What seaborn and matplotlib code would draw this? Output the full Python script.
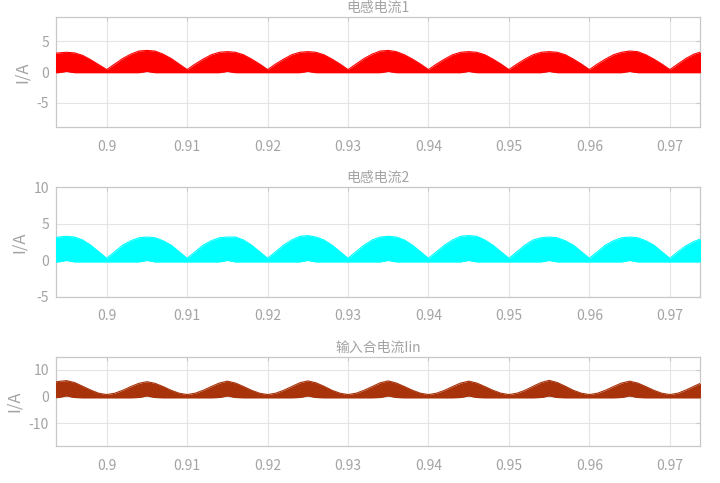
import numpy as np
import pandas as pd
import matplotlib
matplotlib.use("Agg")
import matplotlib.pyplot as plt
import seaborn as sns

# ---- data ----
time_s = np.round(np.arange(0.893, 0.9745, 0.001), 3)  # sample grid, 1 ms

i1_top = [2.9, 3.1, 3.2, 3.1, 2.7, 2.0, 1.2, 0.4,
          1.3, 2.2, 2.9, 3.4, 3.5, 3.4, 2.9, 2.2, 1.3, 0.4,
          1.3, 2.1, 2.8, 3.2, 3.3, 3.2, 2.8, 2.1, 1.3, 0.4,
          1.3, 2.1, 2.8, 3.2, 3.3, 3.2, 2.8, 2.1, 1.3, 0.4,
          1.3, 2.2, 2.9, 3.4, 3.5, 3.3, 2.8, 2.1, 1.3, 0.4,
          1.3, 2.1, 2.8, 3.2, 3.3, 3.2, 2.8, 2.1, 1.3, 0.4,
          1.3, 2.1, 2.8, 3.2, 3.3, 3.2, 2.8, 2.1, 1.3, 0.4,
          1.3, 2.1, 2.8, 3.2, 3.4, 3.3, 2.8, 2.1, 1.3, 0.4,
          1.3, 2.2, 2.9, 3.3]
i1_bot = [-0.1, -0.1, 0.1, -0.1, -0.1, -0.1, -0.1, -0.1,
          -0.1, -0.1, -0.1, -0.1, 0.1, -0.1, -0.1, -0.1, -0.1, -0.1,
          -0.1, -0.1, -0.1, -0.1, 0.1, -0.1, -0.1, -0.1, -0.1, -0.1,
          -0.1, -0.1, -0.1, -0.1, 0.1, -0.1, -0.1, -0.1, -0.1, -0.1,
          -0.1, -0.1, -0.1, -0.1, 0.1, -0.1, -0.1, -0.1, -0.1, -0.1,
          -0.1, -0.1, -0.1, -0.1, 0.1, -0.1, -0.1, -0.1, -0.1, -0.1,
          -0.1, -0.1, -0.1, -0.1, 0.1, -0.1, -0.1, -0.1, -0.1, -0.1,
          -0.1, -0.1, -0.1, -0.1, 0.1, -0.1, -0.1, -0.1, -0.1, -0.1,
          -0.1, -0.1, -0.1, -0.1]

i2_top = [3.0, 3.2, 3.3, 3.2, 2.8, 2.1, 1.2, 0.3,
          1.2, 2.1, 2.7, 3.1, 3.2, 3.1, 2.7, 2.1, 1.2, 0.3,
          1.2, 2.1, 2.7, 3.1, 3.2, 3.2, 2.8, 2.1, 1.2, 0.3,
          1.2, 2.1, 2.8, 3.3, 3.4, 3.2, 2.8, 2.1, 1.2, 0.3,
          1.2, 2.1, 2.8, 3.2, 3.3, 3.2, 2.8, 2.1, 1.2, 0.3,
          1.2, 2.1, 2.8, 3.3, 3.4, 3.3, 2.8, 2.1, 1.2, 0.3,
          1.2, 2.1, 2.8, 3.1, 3.2, 3.1, 2.7, 2.1, 1.2, 0.3,
          1.2, 2.1, 2.7, 3.1, 3.2, 3.1, 2.7, 2.1, 1.2, 0.3,
          1.2, 2.0, 2.6, 3.0]
i2_bot = [-0.2, -0.2, 0.0, -0.2, -0.2, -0.2, -0.2, -0.2,
          -0.2, -0.2, -0.2, -0.2, 0.0, -0.2, -0.2, -0.2, -0.2, -0.2,
          -0.2, -0.2, -0.2, -0.2, 0.0, -0.2, -0.2, -0.2, -0.2, -0.2,
          -0.2, -0.2, -0.2, -0.2, 0.0, -0.2, -0.2, -0.2, -0.2, -0.2,
          -0.2, -0.2, -0.2, -0.2, 0.0, -0.2, -0.2, -0.2, -0.2, -0.2,
          -0.2, -0.2, -0.2, -0.2, 0.0, -0.2, -0.2, -0.2, -0.2, -0.2,
          -0.2, -0.2, -0.2, -0.2, 0.0, -0.2, -0.2, -0.2, -0.2, -0.2,
          -0.2, -0.2, -0.2, -0.2, 0.0, -0.2, -0.2, -0.2, -0.2, -0.2,
          -0.2, -0.2, -0.2, -0.2]

iin_top = [5.2, 5.7, 6.0, 5.3, 3.9, 2.5, 1.3, 0.8,
           1.3, 2.4, 3.8, 5.0, 5.6, 5.0, 3.8, 2.4, 1.3, 0.8,
           1.3, 2.4, 3.8, 5.1, 5.8, 5.1, 3.8, 2.4, 1.3, 0.8,
           1.3, 2.4, 3.8, 5.2, 5.9, 5.2, 3.9, 2.4, 1.3, 0.8,
           1.3, 2.4, 3.8, 5.2, 5.9, 5.1, 3.8, 2.4, 1.3, 0.8,
           1.3, 2.4, 3.8, 5.1, 5.8, 5.1, 3.8, 2.4, 1.3, 0.8,
           1.3, 2.4, 3.9, 5.3, 6.1, 5.3, 3.9, 2.4, 1.3, 0.8,
           1.3, 2.4, 3.8, 5.1, 5.8, 5.1, 3.8, 2.4, 1.3, 0.8,
           1.3, 2.5, 3.9, 5.3]
iin_bot = [-0.4, -0.3, 0.3, -0.3, -0.4, -0.4, -0.4, -0.4,
           -0.4, -0.4, -0.4, -0.3, 0.3, -0.3, -0.4, -0.4, -0.4, -0.4,
           -0.4, -0.4, -0.4, -0.3, 0.3, -0.3, -0.4, -0.4, -0.4, -0.4,
           -0.4, -0.4, -0.4, -0.3, 0.3, -0.3, -0.4, -0.4, -0.4, -0.4,
           -0.4, -0.4, -0.4, -0.3, 0.3, -0.3, -0.4, -0.4, -0.4, -0.4,
           -0.4, -0.4, -0.4, -0.3, 0.3, -0.3, -0.4, -0.4, -0.4, -0.4,
           -0.4, -0.4, -0.4, -0.3, 0.3, -0.3, -0.4, -0.4, -0.4, -0.4,
           -0.4, -0.4, -0.4, -0.3, 0.3, -0.3, -0.4, -0.4, -0.4, -0.4,
           -0.4, -0.4, -0.4, -0.4]

titles = ["电感电流1", "电感电流2", "输入合电流Iin"]
colors = ["#ff0000", "#00ffff", "#a8320a"]
ylims = [(-8.9, 8.9), (-5, 10), (-18.4, 14.7)]
yticks = [[-5, 0, 5], [-5, 0, 5, 10], [-10, 0, 10]]
xticks = [0.90, 0.91, 0.92, 0.93, 0.94, 0.95, 0.96, 0.97]
xtick_labels = ["0.9", "0.91", "0.92", "0.93", "0.94", "0.95", "0.96", "0.97"]
ylabel = "I/A"

# ---- style ----
sns.set_theme(style="whitegrid")
plt.rcParams['font.family'] = ['Noto Sans CJK SC', 'DejaVu Sans']
plt.rcParams['axes.unicode_minus'] = False
text_c = "#a3a3a3"
grid_c = "#e4e4e4"
spine_c = "#c8c8c8"

fig = plt.figure(figsize=(7.2, 4.83), dpi=100)
fig.patch.set_facecolor("white")
positions = [
    [0.0778, 0.737, 0.895, 0.2277],
    [0.0778, 0.3851, 0.895, 0.2271],
    [0.0778, 0.0766, 0.895, 0.1836],
]

series = [(i1_top, i1_bot), (i2_top, i2_bot), (iin_top, iin_bot)]

for k in range(3):
    ax = fig.add_axes(positions[k])
    top, bot = series[k]
    df = pd.DataFrame({"t": time_s, "top": top, "bot": bot})
    ax.fill_between(df["t"], df["bot"], df["top"], color=colors[k], lw=0, zorder=3)
    sns.lineplot(data=df, x="t", y="top", ax=ax, color=colors[k], lw=0.8, zorder=4)
    sns.lineplot(data=df, x="t", y="bot", ax=ax, color=colors[k], lw=0.8, zorder=4)
    ax.set_xlim(0.8937, 0.9738)
    ax.set_ylim(*ylims[k])
    ax.set_xticks(xticks)
    ax.set_xticklabels(xtick_labels)
    ax.set_yticks(yticks[k])
    ax.set_xlabel("")
    ax.set_ylabel(ylabel, color=text_c, fontsize=12, labelpad=4)
    ax.set_title(titles[k], color=text_c, fontsize=10, pad=4)
    ax.grid(True, color=grid_c, lw=0.8)
    ax.set_facecolor("white")
    for s in ax.spines.values():
        s.set_color(spine_c)
        s.set_linewidth(0.9)
    ax.tick_params(axis="both", colors=text_c, labelsize=10, direction="in",
                   length=3, width=0.8, color=spine_c, right=True, top=True)
    ax.tick_params(axis="x", pad=9)
    ax.tick_params(axis="y", pad=5)

fig.savefig("out.png", dpi=100, facecolor="white")
